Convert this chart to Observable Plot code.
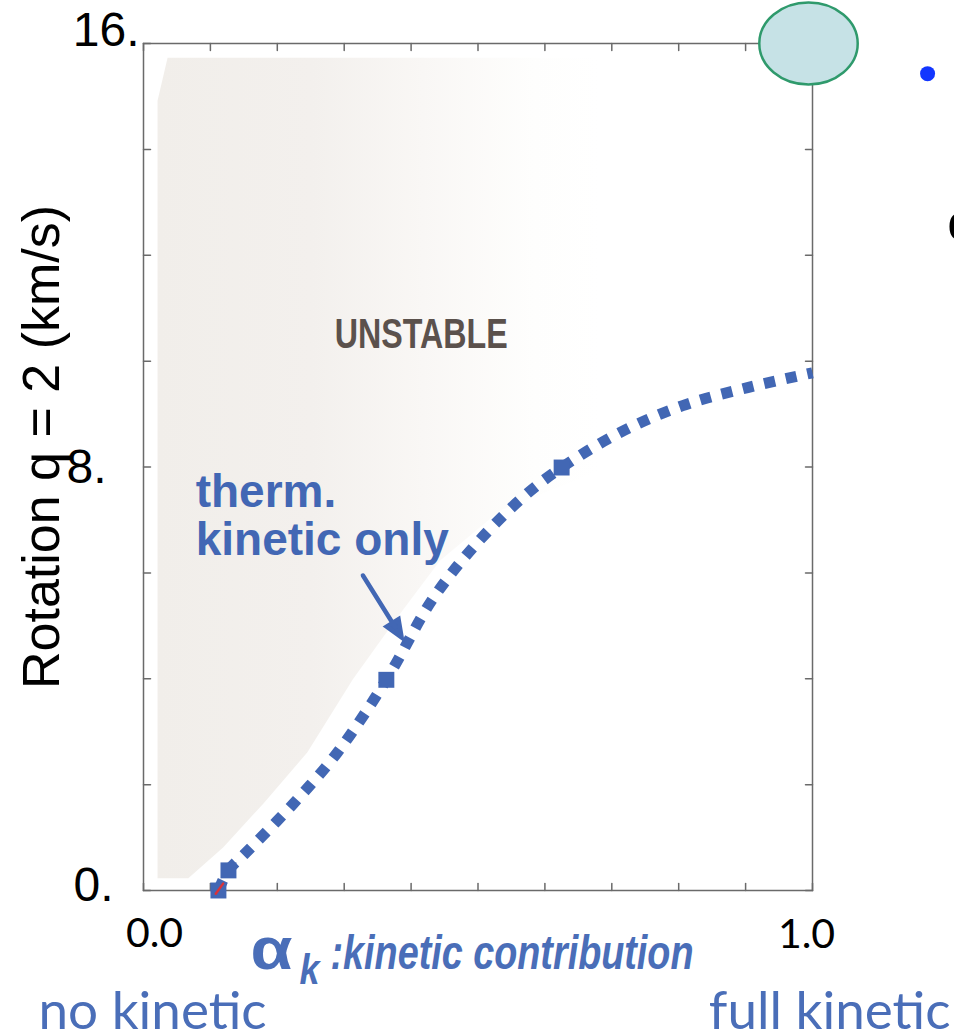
<!DOCTYPE html>
<html><head><meta charset="utf-8">
<script src="https://cdn.jsdelivr.net/npm/d3@7"></script>
<script src="https://cdn.jsdelivr.net/npm/@observablehq/plot@0.6"></script>
<style>html,body{margin:0;padding:0;background:#fff;overflow:hidden;} svg{display:block}</style>
</head><body><div id="chart"></div>
<script>
// ---- data ----
const curveX = [0.112, 0.127, 0.152, 0.224, 0.290, 0.363, 0.433, 0.499, 0.570, 0.625, 0.712, 0.806, 0.903, 1.0];
const curveY = [0.0, 0.38, 0.70, 1.64, 2.61, 3.98, 5.52, 6.57, 7.46, 7.99, 8.65, 9.16, 9.50, 9.78];
const markerX = [0.112, 0.127, 0.363, 0.625];
const markerY = [0.0, 0.38, 3.98, 7.99];
const redX = [0.108, 0.119];
const redY = [-0.06, 0.13];
const regionX = [0.021, 0.036, 0.682, 0.682, 0.533, 0.443, 0.376, 0.313, 0.245, 0.179, 0.119, 0.067, 0.021];
const regionY = [14.92, 15.73, 15.73, 7.93, 7.18, 6.23, 5.10, 3.99, 2.61, 1.64, 0.81, 0.23, 0.23];
const xTicks = [0, 0.1, 0.2, 0.3, 0.4, 0.5, 0.6, 0.7, 0.8, 0.9, 1.0];
const yTicks = [0, 2, 4, 6, 8, 10, 12, 14, 16];
const yTickLabels = ["0.", "8.", "16."];
const yTickLabelValues = [0, 8, 16];
const xTickLabels = ["0.0", "1.0"];
const xTickLabelValues = [0, 1];
const yAxisTitle = "Rotation q = 2 (km/s)";
const regionLabel = {x: 0.415, y: 10.5, text: "UNSTABLE"};
const curveLabel = {x: 0.078, y: 6.33, text: "therm.\nkinetic only"};
const arrowStart = {x: 0.328, y: 5.95};
const ellipseAt = {x: 1.0, y: 16};
const bulletAt = {x: 1.172, y: 15.43};
const cutLetter = {x: 1.2015, y: 12.6, text: "c"};
const xTitleAlpha = "α", xTitleSub = "k", xTitleRest = ":kinetic contribution";
const leftNote = "no kinetic", rightNote = "full kinetic";

const curve = curveX.map((x, i) => ({x, y: curveY[i]}));
const markers = markerX.map((x, i) => ({x, y: markerY[i]}));
const red = redX.map((x, i) => ({x, y: redY[i]}));
const region = regionX.map((x, i) => ({x, y: regionY[i]}));

const BLUE = "#4267b4";
const TXTBLUE = "#4a6eb8";
const SANS = "'Liberation Sans', Arial, sans-serif";

const tickShape = {draw(ctx, l) { ctx.moveTo(0, 0); ctx.lineTo(0, -l); }};
const arrowShape = {draw(ctx, l) {
  ctx.moveTo(0, 0); ctx.lineTo(0, -l + 12);
  ctx.moveTo(-7, -l + 17); ctx.lineTo(0, -l); ctx.lineTo(7, -l + 17); ctx.closePath();
}};
const ellipseSymbol = {draw(ctx, size) {
  const r = Math.sqrt(size / Math.PI), rx = r * 1.2, ry = r, k = 0.5523;
  ctx.moveTo(rx, 0);
  ctx.bezierCurveTo(rx, ry * k, rx * k, ry, 0, ry);
  ctx.bezierCurveTo(-rx * k, ry, -rx, ry * k, -rx, 0);
  ctx.bezierCurveTo(-rx, -ry * k, -rx * k, -ry, 0, -ry);
  ctx.bezierCurveTo(rx * k, -ry, rx, -ry * k, rx, 0);
  ctx.closePath();
}};
const tickStyle = {stroke: "#6a6a6a", strokeWidth: 1.5, length: 7, anchor: "start", shape: tickShape};

const chart = Plot.plot({
  width: 954, height: 1036,
  marginLeft: 143, marginRight: 142, marginTop: 43, marginBottom: 146,
  x: {domain: [0, 1], axis: null},
  y: {domain: [0, 16], axis: null},
  style: {background: "#fff", fontFamily: SANS, overflow: "visible"},
  marks: [
    Plot.line(region, {x: "x", y: "y", fill: "url(#unstableGrad)", stroke: "none"}),
    Plot.frame({stroke: "#6a6a6a", strokeWidth: 1.5}),
    Plot.vector(yTicks, {x: () => 0, y: d => d, rotate: 90, ...tickStyle}),
    Plot.vector(yTicks, {x: () => 1, y: d => d, rotate: -90, ...tickStyle}),
    Plot.vector(xTicks, {x: d => d, y: () => 0, rotate: 0, ...tickStyle}),
    Plot.vector(xTicks, {x: d => d, y: () => 16, rotate: 180, ...tickStyle}),
    Plot.text([regionLabel], {x: "x", y: "y", text: "text", fontWeight: "bold", fontSize: 43, fill: "#5b514c"}),
    Plot.line(curve, {x: "x", y: "y", stroke: BLUE, strokeWidth: 11, strokeDasharray: "11,11", strokeLinecap: "butt", curve: "catmull-rom"}),
    Plot.dot(markers, {x: "x", y: "y", symbol: "square", r: 9, fill: BLUE, stroke: "none"}),
    Plot.line(red, {x: "x", y: "y", stroke: "#d8333a", strokeWidth: 2.5}),
    Plot.text([curveLabel], {x: "x", y: "y", text: "text", textAnchor: "start", lineAnchor: "bottom", lineHeight: 1.05, fontSize: 46, fontWeight: "bold", fill: BLUE}),
    Plot.vector([arrowStart], {x: "x", y: "y", anchor: "start", length: 73, rotate: 148, shape: arrowShape, stroke: BLUE, fill: BLUE, strokeWidth: 4.5, strokeLinejoin: "miter"}),
    Plot.dot([ellipseAt], {x: "x", y: "y", symbol: ellipseSymbol, r: 41, dx: -4, fill: "#c6e2e6", stroke: "#2f9a6c", strokeWidth: 2.5}),
    Plot.dot([bulletAt], {x: "x", y: "y", r: 7.5, fill: "#1236ff", stroke: "none"}),
    Plot.text([cutLetter], {x: "x", y: "y", text: "text", textAnchor: "start", fontSize: 52, fill: "#000"}),
    // y tick labels
    Plot.text([yTickLabelValues[2]], {x: () => 0, y: d => d, text: () => yTickLabels[2], textAnchor: "end", dx: -4, dy: -13, fontSize: 48, fill: "#000"}),
    Plot.text([yTickLabelValues[1]], {x: () => 0, y: d => d, text: () => yTickLabels[1], textAnchor: "end", dx: -37, dy: 1, fontSize: 48, fill: "#000"}),
    Plot.text([yTickLabelValues[0]], {x: () => 0, y: d => d, text: () => yTickLabels[0], textAnchor: "end", dx: -30, dy: -5, fontSize: 48, fill: "#000"}),
    // y axis title
    Plot.text([yAxisTitle], {x: () => 0, y: () => 8, text: d => d, rotate: -90, dx: -101, dy: -20, fontSize: 52, fill: "#000"}),
    // x tick labels
    Plot.text([xTickLabelValues[0]], {x: d => d, y: () => 0, text: () => xTickLabels[0], dx: 11, dy: 43, fontSize: 41, fontFamily: "Lato, sans-serif", fill: "#000"}),
    Plot.text([xTickLabelValues[1]], {x: d => d, y: () => 0, text: () => xTickLabels[1], dx: -6, dy: 44, fontSize: 41, fontFamily: "Lato, sans-serif", fill: "#000"}),
    // x axis title
    Plot.text([xTitleAlpha], {x: () => 0, y: () => 0, text: d => d, textAnchor: "start", lineAnchor: "bottom", dx: 107, dy: 78, fontSize: 60, fontWeight: "bold", fill: TXTBLUE}),
    Plot.text([xTitleSub], {x: () => 0, y: () => 0, text: d => d, textAnchor: "start", lineAnchor: "bottom", dx: 156, dy: 93, fontSize: 43, fontWeight: "bold", fontStyle: "italic", fill: TXTBLUE}),
    Plot.text([xTitleRest], {x: () => 0, y: () => 0, text: d => d, textAnchor: "start", lineAnchor: "bottom", dx: 187, dy: 78, fontSize: 48, fontWeight: "bold", fontStyle: "italic", fill: TXTBLUE}),
    // bottom notes
    Plot.text([leftNote], {x: () => 0, y: () => 0, text: d => d, textAnchor: "start", lineAnchor: "bottom", dx: -105, dy: 138, fontSize: 53, fontFamily: "Lato, sans-serif", fill: TXTBLUE}),
    Plot.text([rightNote], {x: () => 1, y: () => 0, text: d => d, textAnchor: "end", lineAnchor: "bottom", dx: 138, dy: 138, fontSize: 53, fontFamily: "Lato, sans-serif", fill: TXTBLUE})
  ]
});

// gradient for the unstable region (fades to white toward the right)
const defs = d3.create("svg:defs");
const grad = defs.append("linearGradient").attr("id", "unstableGrad").attr("x1", "0").attr("x2", "1").attr("y1", "0").attr("y2", "0");
[[0, "#f1eeea"], [0.35, "#f3f0ed"], [0.6, "#f9f7f5"], [0.85, "#fefefd"], [1, "#ffffff"]].forEach(([o, c]) =>
  grad.append("stop").attr("offset", o).attr("stop-color", c));
chart.insertBefore(defs.node(), chart.firstChild);

// condensed look for the condensed-type labels
const condense = {[xTitleRest]: 363, [regionLabel.text]: 173, [xTitleAlpha]: 42, [xTitleSub]: 20};
d3.select(chart).selectAll("text").each(function() {
  const w = condense[this.textContent];
  if (w && this.childElementCount === 0) d3.select(this).attr("textLength", w).attr("lengthAdjust", "spacingAndGlyphs");
});

document.getElementById("chart").appendChild(chart);
</script>
</body></html>
